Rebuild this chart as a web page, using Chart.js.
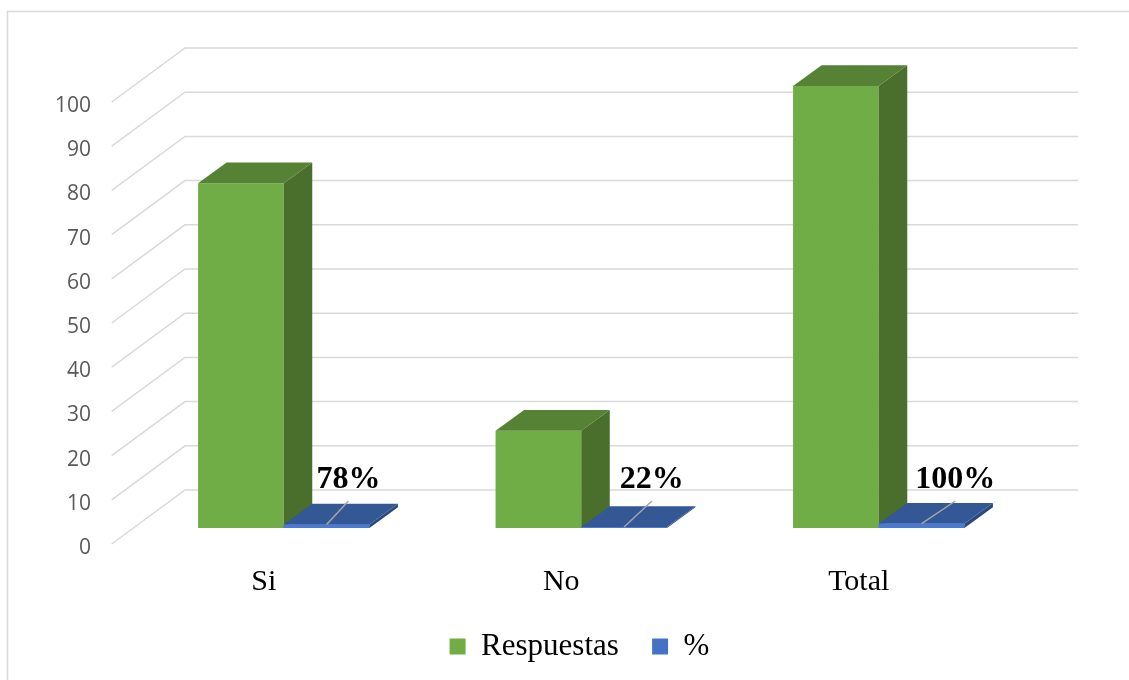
<!DOCTYPE html>
<html>
<head>
<meta charset="utf-8">
<script src="https://cdn.jsdelivr.net/npm/chart.js@4"></script>
<style>
  body { margin: 0; background: #fff; }
  canvas { display: block; }
</style>
</head>
<body>
<canvas id="grafico" width="1129" height="680"></canvas>
<script>
// datos
const categorias = ['Si', 'No', 'Total'];
const respuestas = [78, 22, 100];
const porcentajes = [0.78, 0.22, 1];
const marcasY = [0, 10, 20, 30, 40, 50, 60, 70, 80, 90, 100];

// profundidad del efecto 3D
const prof = { dx: 28.5, dy: -20.7 };

function cara(ctx, pts, color) {
  ctx.beginPath();
  ctx.moveTo(pts[0][0], pts[0][1]);
  for (let i = 1; i < pts.length; i++) ctx.lineTo(pts[i][0], pts[i][1]);
  ctx.closePath();
  ctx.fillStyle = color;
  ctx.fill();
}

function barra3d(ctx, el, colores, conFrente) {
  const izq = el.x - el.width / 2, der = el.x + el.width / 2;
  const arriba = el.y, abajo = el.base;
  if (conFrente) cara(ctx, [[izq, arriba], [der, arriba], [der, abajo], [izq, abajo]], colores.frente);
  cara(ctx, [[der, arriba], [der + prof.dx, arriba + prof.dy], [der + prof.dx, abajo + prof.dy], [der, abajo]], colores.lado);
  cara(ctx, [[izq, arriba], [izq + prof.dx, arriba + prof.dy], [der + prof.dx, arriba + prof.dy], [der, arriba]], colores.tapa);
}

const verde = { frente: '#70AD47', lado: '#4A6E2C', tapa: '#558235' };
const azul = { frente: '#4472C4', lado: '#2A4A82', tapa: '#335895' };

const marco = {
  id: 'marco',
  beforeDraw(chart) {
    const ctx = chart.ctx;
    ctx.save();
    ctx.strokeStyle = '#D9D9D9';
    ctx.lineWidth = 1.5;
    ctx.strokeRect(7.5, 11.5, 1300, 1000);
    ctx.restore();
  }
};

// paredes y lineas de division en perspectiva
const paredes = {
  id: 'paredes',
  beforeDatasetsDraw(chart) {
    const ctx = chart.ctx, y = chart.scales.y;
    ctx.save();
    ctx.strokeStyle = '#D9D9D9';
    ctx.lineWidth = 1.5;
    marcasY.forEach(v => {
      const p = y.getPixelForValue(v);
      ctx.beginPath();
      ctx.moveTo(111.7, p + 16);
      ctx.lineTo(185, p - 38);
      ctx.lineTo(1078, p - 38);
      ctx.stroke();
    });
    ctx.restore();
  }
};

const volumen = {
  id: 'volumen',
  afterDatasetsDraw(chart) {
    const ctx = chart.ctx;
    const m0 = chart.getDatasetMeta(0).data;
    const m1 = chart.getDatasetMeta(1).data;
    ctx.save();
    categorias.forEach((c, i) => {
      barra3d(ctx, m0[i], verde, false);
      barra3d(ctx, m1[i], azul, true);
      // borde claro del frente azul
      const el = m1[i];
      ctx.fillStyle = '#4A7BD0';
      ctx.fillRect(el.x - el.width / 2, el.y, el.width, el.base - el.y);
      // etiqueta y linea guia
      const lx = el.x + 18 + 0.02 * (el.x - chart.chartArea.left);
      const ly = el.base - 48;
      ctx.strokeStyle = '#A6A6A6';
      ctx.lineWidth = 1.5;
      ctx.beginPath();
      ctx.moveTo(el.x, el.y);
      ctx.lineTo(lx, ly + 21);
      ctx.stroke();
      ctx.fillStyle = '#000';
      ctx.font = 'bold 32px "Liberation Serif"';
      ctx.textAlign = 'center';
      ctx.textBaseline = 'middle';
      ctx.fillText(Math.round(porcentajes[i] * 100) + '%', lx, ly);
    });
    ctx.restore();
  }
};

new Chart(document.getElementById('grafico'), {
  type: 'bar',
  data: {
    labels: categorias,
    datasets: [
      { label: 'Respuestas', data: respuestas, backgroundColor: verde.frente, borderWidth: 0 },
      { label: '%', data: porcentajes, backgroundColor: azul.frente, borderWidth: 0 }
    ]
  },
  options: {
    responsive: false,
    animation: false,
    layout: { padding: { top: 86, left: 30, right: 0, bottom: 8 } },
    datasets: { bar: { categoryPercentage: 0.576, barPercentage: 1 } },
    plugins: {
      tooltip: { enabled: false },
      legend: {
        position: 'bottom',
        labels: {
          boxWidth: 16,
          boxHeight: 16,
          padding: 10,
          color: '#000',
          font: { family: 'Liberation Serif', size: 31 },
          generateLabels(chart) {
            const items = Chart.defaults.plugins.legend.labels.generateLabels(chart);
            items[0].text = items[0].text + '   ';
            return items;
          }
        }
      }
    },
    scales: {
      x: {
        grid: { display: false },
        border: { display: false },
        ticks: {
          color: '#000',
          padding: 28,
          labelOffset: -20,
          font: { family: 'Liberation Serif', size: 30 }
        },
        afterFit(s) { s.height = 93; }
      },
      y: {
        min: 0,
        max: 100,
        grid: { display: false, drawTicks: false },
        border: { display: false },
        ticks: {
          stepSize: 10,
          padding: 44,
          labelOffset: 20,
          color: '#595959',
          font: { family: 'Open Sans', size: 21 }
        },
        afterFit(s) { s.width = 105; }
      },
      y2: {
        position: 'right',
        grid: { display: false, drawTicks: false },
        border: { display: false },
        ticks: { display: false },
        afterFit(s) { s.width = 101.5; }
      }
    }
  },
  plugins: [marco, paredes, volumen]
});
</script>
</body>
</html>
